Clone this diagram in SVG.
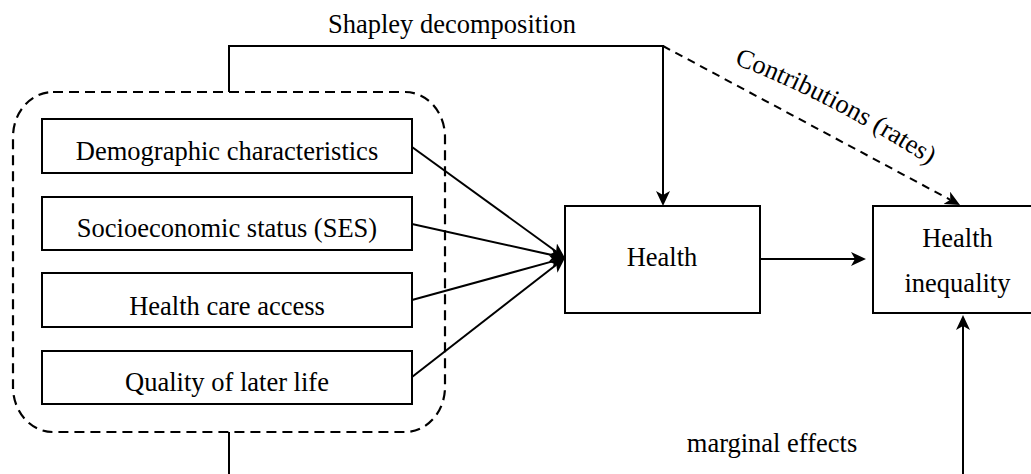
<svg xmlns="http://www.w3.org/2000/svg" width="1031" height="474" viewBox="0 0 1031 474">
<style>
.box{fill:#fff;stroke:#000;stroke-width:2}
.t{font-family:"Liberation Serif","Times New Roman",serif;font-size:26.5px;fill:#000;text-anchor:middle}
.ln{fill:none;stroke:#000;stroke-width:2}
.dash{fill:none;stroke:#000;stroke-width:2.2;stroke-dasharray:10 6}
</style>
<defs>
<marker id="ah" markerUnits="userSpaceOnUse" markerWidth="18" markerHeight="16" refX="4" refY="7" orient="auto">
<path d="M0,0 L15,7 L0,14 L4,7 Z" fill="#000"/>
</marker>
<path id="lblPath" d="M734,64 Q830,100 940,172"/>
</defs>
<rect width="1031" height="474" fill="#fff"/>
<g id="group">
<rect x="13" y="92" width="432" height="340" rx="40" ry="45" class="dash"/>
</g>
<g id="demographic">
<rect x="42" y="119" width="370" height="54" class="box"/>
<text x="227" y="160" class="t">Demographic characteristics</text>
</g>
<g id="ses">
<rect x="42" y="197" width="370" height="53" class="box"/>
<text x="227" y="237" class="t">Socioeconomic status (SES)</text>
</g>
<g id="access">
<rect x="42" y="273" width="370" height="54" class="box"/>
<text x="227" y="315" class="t">Health care access</text>
</g>
<g id="quality">
<rect x="42" y="351" width="370" height="53" class="box"/>
<text x="227" y="391" class="t">Quality of later life</text>
</g>
<g id="health">
<rect x="565" y="206" width="195" height="107" class="box"/>
<text x="662" y="266" class="t">Health</text>
</g>
<g id="inequality">
<rect x="873" y="206" width="169" height="107" class="box"/>
<text x="957.5" y="247" class="t">Health</text>
<text x="957.5" y="292" class="t">inequality</text>
</g>
<g id="connectors">
<path class="ln" d="M229,92 V46 H663 V195" marker-end="url(#ah)"/>
<path class="ln" style="stroke-dasharray:8 6" d="M663,46 L950.3,199.8" marker-end="url(#ah)"/>
<path class="ln" d="M412,147 L556.1,251.5" marker-end="url(#ah)"/>
<path class="ln" d="M412,224 L554.3,255.6" marker-end="url(#ah)"/>
<path class="ln" d="M412,300 L554.4,260.9" marker-end="url(#ah)"/>
<path class="ln" d="M412,377 L556.3,264.7" marker-end="url(#ah)"/>
<path class="ln" d="M760,259 H855" marker-end="url(#ah)"/>
<path class="ln" d="M963,474 V326" marker-end="url(#ah)"/>
<path class="ln" d="M229,432 V474"/>
<text x="452" y="33" class="t">Shapley decomposition</text>
<text class="t" style="text-anchor:start"><textPath href="#lblPath">Contributions (rates)</textPath></text>
<text x="772" y="452" class="t">marginal effects</text>
</g>
</svg>
